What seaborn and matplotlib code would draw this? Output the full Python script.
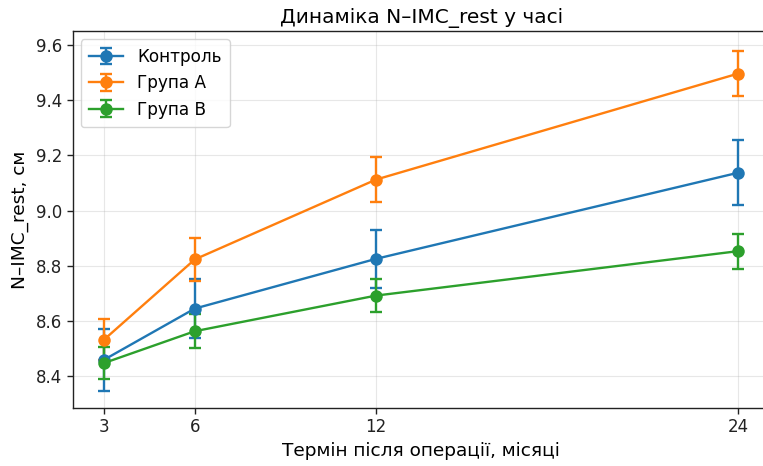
import numpy as np
import pandas as pd
import matplotlib
matplotlib.use("Agg")
import matplotlib.pyplot as plt
from matplotlib.legend_handler import HandlerTuple
import seaborn as sns

# Months after surgery
months = [3, 6, 12, 24]
groups = ["Контроль", "Група A", "Група B"]

# Mean N–IMC_rest (cm) and error half-widths per group
control_mean = [8.46, 8.645, 8.825, 9.137]
control_err = [0.112, 0.108, 0.106, 0.117]
group_a_mean = [8.533, 8.823, 9.112, 9.496]
group_a_err = [0.073, 0.078, 0.080, 0.083]
group_b_mean = [8.448, 8.563, 8.692, 8.853]
group_b_err = [0.058, 0.062, 0.060, 0.063]

df = pd.DataFrame({
    "month": months * 3,
    "value": control_mean + group_a_mean + group_b_mean,
    "err": control_err + group_a_err + group_b_err,
    "group": [g for g in groups for _ in months],
})

palette = sns.color_palette("tab10", 3)

plt.rcParams["font.family"] = ["DejaVu Sans"]
fig = plt.figure(figsize=(7.63, 4.66), dpi=100)
ax = fig.add_axes([72.5 / 763, 1 - 408 / 466, (770 - 72.5) / 763, (408 - 31) / 466])

sns.lineplot(data=df, x="month", y="value", hue="group", palette=palette,
             marker="o", markersize=9, markeredgewidth=0, linewidth=1.7,
             legend=False, ax=ax, zorder=3)

handles = []
for g, color in zip(groups, palette):
    sub = df[df["group"] == g]
    eb = ax.errorbar(sub["month"], sub["value"], yerr=sub["err"], fmt="none",
                     ecolor=color, elinewidth=1.7, capsize=4, capthick=1.7, zorder=2)
    marker_line = plt.Line2D([], [], color=color, marker="o", markersize=9,
                             markeredgewidth=0, linewidth=1.7)
    handles.append((eb, marker_line))

ax.set_xticks(months)
ax.set_xticklabels([str(m) for m in months])
ax.set_xlim(1.95, 25.05)
ax.set_ylim(8.285, 9.65)
ax.set_yticks([8.4, 8.6, 8.8, 9.0, 9.2, 9.4, 9.6])
ax.set_yticklabels(["8.4", "8.6", "8.8", "9.0", "9.2", "9.4", "9.6"])
ax.grid(True, color="#b0b0b0", alpha=0.3, linewidth=0.8)
ax.set_axisbelow(True)
for sp in ax.spines.values():
    sp.set_color("#222222")
    sp.set_linewidth(1.0)
ax.tick_params(labelsize=12, length=4, width=1, colors="#222222")

ax.set_title("Динаміка N–IMC_rest у часі", fontsize=14.5, pad=6)
ax.set_xlabel("Термін після операції, місяці", fontsize=13.3, labelpad=4)
ax.set_ylabel("N–IMC_rest, см", fontsize=13.3, labelpad=5)

ax.legend(handles, groups, handler_map={tuple: HandlerTuple(ndivide=1)},
          loc="upper left", fontsize=12.2, framealpha=0.8, edgecolor="#cccccc",
          borderpad=0.5, handlelength=2.0)

fig.savefig("out.png", dpi=100)
